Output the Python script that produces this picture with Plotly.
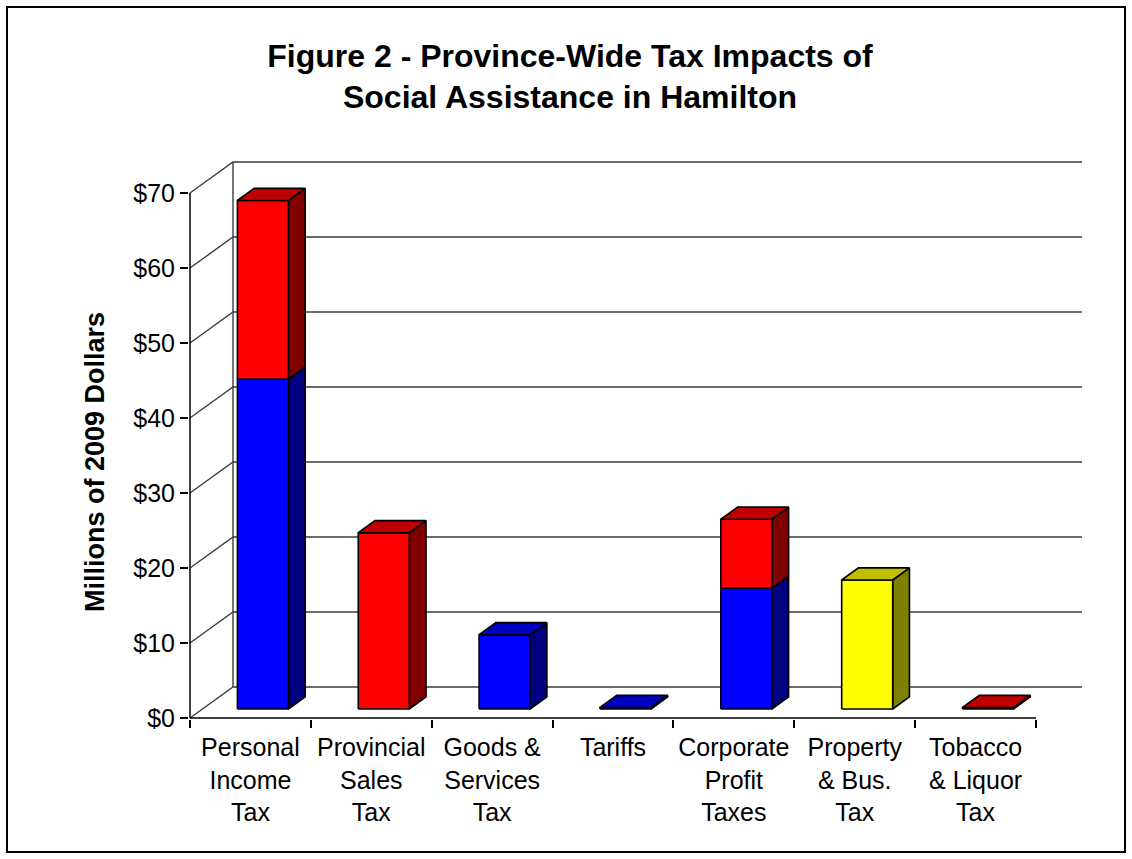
import plotly.graph_objects as go

# ---------------- data ----------------
categories = [
    "Personal<br>Income<br>Tax",
    "Provincial<br>Sales<br>Tax",
    "Goods &amp;<br>Services<br>Tax",
    "Tariffs",
    "Corporate<br>Profit<br>Taxes",
    "Property<br>&amp; Bus.<br>Tax",
    "Tobacco<br>&amp; Liquor<br>Tax",
]
blue_vals = [44.0, 0.0, 9.9, 0.2, 16.1, 0.0, 0.0]
red_vals = [23.8, 23.5, 0.0, 0.0, 9.2, 0.0, 0.2]
yellow_vals = [0.0, 0.0, 0.0, 0.0, 0.0, 17.2, 0.0]
y_ticks = [0, 10, 20, 30, 40, 50, 60, 70]
y_tick_labels = ["$0", "$10", "$20", "$30", "$40", "$50", "$60", "$70"]

# (values, front colour, top colour, side colour), bottom to top of stack
series = [
    (blue_vals, "#0000FF", "#0000C0", "#000080"),
    (red_vals, "#FF0000", "#C00000", "#800000"),
    (yellow_vals, "#FFFF00", "#C0C000", "#808000"),
]

# ---------------- layout geometry (pixels) ----------------
W, H = 1132, 859
PL, PR, PT, PB = 189, 1082, 158, 719      # plot area edges
OX, OY = 190, 718                          # front axis origin
CAT_PX = 846 / 7                           # px per category
VAL_PX = 7.5                               # px per dollar
DEPTH = (43, 31)                           # full depth offset (px right, px up)
FRONT_F, BACK_F = 0.29, 0.68               # bar depth fractions
HALF_W = 25.5 / CAT_PX                     # half bar width (category units)

xmin = -0.5 - (OX - PL) / CAT_PX
xmax = -0.5 + (PR - OX) / CAT_PX
ymin = -(PB - OY) / VAL_PX
ymax = (OY - PT) / VAL_PX

ddx, ddy = DEPTH[0] / CAT_PX, DEPTH[1] / VAL_PX
fdx, fdy = FRONT_F * ddx, FRONT_F * ddy
bdx, bdy = BACK_F * ddx, BACK_F * ddy

fig = go.Figure()

# ---------------- walls / gridlines ----------------
gx, gy = [], []
for v in y_ticks:
    gx += [-0.5, -0.5 + ddx, xmax, None]
    gy += [v, v + ddy, v + ddy, None]
gx += [-0.5 + ddx, -0.5 + ddx, None]
gy += [ddy, y_ticks[-1] + ddy, None]
fig.add_trace(go.Scatter(x=gx, y=gy, mode="lines",
                         line=dict(color="#3c3c3c", width=1.4),
                         hoverinfo="skip", showlegend=False))
# front axis lines
fig.add_trace(go.Scatter(x=[-0.5, -0.5, None, -0.5, 6.5],
                         y=[0, y_ticks[-1], None, 0, 0], mode="lines",
                         line=dict(color="black", width=1.5),
                         hoverinfo="skip", showlegend=False))


def poly(xs, ys, color):
    fig.add_trace(go.Scatter(x=xs + [xs[0]], y=ys + [ys[0]], mode="lines",
                             fill="toself", fillcolor=color,
                             line=dict(color="black", width=1.6),
                             hoverinfo="skip", showlegend=False))


# ---------------- bars ----------------
for i in range(len(categories)):
    segs = []
    base = 0.0
    for vals, cf, ct, cs in series:
        v = vals[i]
        if v > 0:
            segs.append((base, base + v, cf, ct, cs))
            base += v
    for k, (b0, b1, cf, ct, cs) in enumerate(segs):
        xl, xr = i + fdx - HALF_W, i + fdx + HALF_W
        bxl, bxr = i + bdx - HALF_W, i + bdx + HALF_W
        # side
        poly([xr, bxr, bxr, xr], [fdy + b0, bdy + b0, bdy + b1, fdy + b1], cs)
        # front
        poly([xl, xr, xr, xl], [fdy + b0, fdy + b0, fdy + b1, fdy + b1], cf)
        # top (only topmost segment)
        if k == len(segs) - 1:
            poly([xl, xr, bxr, bxl], [fdy + b1, fdy + b1, bdy + b1, bdy + b1], ct)

FONT = "Liberation Sans, Arial, sans-serif"

fig.update_layout(
    width=W, height=H, autosize=False,
    margin=dict(l=PL, r=W - PR, t=PT, b=H - PB, pad=0),
    paper_bgcolor="white", plot_bgcolor="white",
    showlegend=False,
    font=dict(family=FONT, color="black"),
    title=dict(text="<b>Figure 2 - Province-Wide Tax Impacts of<br>Social Assistance in Hamilton</b>",
               font=dict(size=32, family=FONT, color="black"),
               x=570 / W, xref="container", xanchor="center",
               y=1 - 66.5 / H, yref="container", yanchor="middle"),
    xaxis=dict(range=[xmin, xmax], showgrid=False, zeroline=False, showline=False,
               tickmode="array", tickvals=list(range(len(categories))), ticktext=categories,
               ticks="", ticklabelstandoff=11,
               tickfont=dict(size=25, family=FONT, color="black"),
               minor=dict(tickmode="array", tickvals=[k - 0.5 for k in range(len(categories) + 1)],
                          ticks="outside", ticklen=8, tickwidth=1.5, tickcolor="black", showgrid=False),
               fixedrange=True),
    yaxis=dict(range=[ymin, ymax], showgrid=False, zeroline=False, showline=False,
               tickmode="array", tickvals=y_ticks, ticktext=y_tick_labels,
               ticks="outside", ticklen=8, tickwidth=1.5, tickcolor="black",
               tickfont=dict(size=25, family=FONT, color="black"), fixedrange=True),
)

fig.add_annotation(text="<b>Millions of 2009 Dollars</b>", textangle=-90,
                   xref="paper", x=(95 - PL) / (PR - PL), yref="y", y=(OY - 462) / VAL_PX,
                   xanchor="center", yanchor="middle", showarrow=False,
                   font=dict(size=27, family=FONT, color="black"))


def px_x(p):
    return (p - PL) / (PR - PL)


def px_y(p):
    return 1 - (p - PT) / (PB - PT)


fig.add_shape(type="rect", xref="paper", yref="paper",
              x0=px_x(7), x1=px_x(1125), y0=px_y(852), y1=px_y(7),
              line=dict(color="black", width=2), fillcolor="rgba(0,0,0,0)", layer="below")

fig.write_html("out.html")
